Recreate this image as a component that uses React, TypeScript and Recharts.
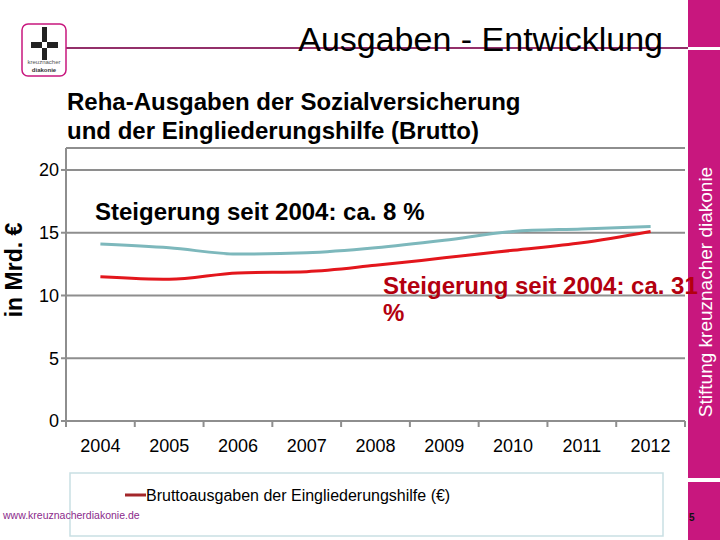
import React from 'react'
import { LineChart, Line, XAxis, YAxis, CartesianGrid } from 'recharts'

const YEARS = ['2004', '2005', '2006', '2007', '2008', '2009', '2010', '2011', '2012']
const SOZIALVERSICHERUNG = [14.1, 13.8, 13.3, 13.4, 13.8, 14.4, 15.1, 15.3, 15.5]
const EINGLIEDERUNGSHILFE = [11.5, 11.3, 11.8, 11.9, 12.4, 13.0, 13.6, 14.2, 15.1]
const Y_TICKS = [0, 5, 10, 15, 20]

const W = 720
const H = 540
const MARGIN = { top: 148, right: 35, bottom: 79, left: 6 }
const Y_AXIS_W = 60
const X_AXIS_H = 40
const PLOT_LEFT = MARGIN.left + Y_AXIS_W
const PLOT_RIGHT = W - MARGIN.right
const PLOT_BOTTOM = H - MARGIN.bottom - X_AXIS_H
const BAND = (PLOT_RIGHT - PLOT_LEFT) / YEARS.length

const GRAY = '#8e8e8e'
const TEAL = '#7db8bc'
const RED = '#e3161c'
const PINK = '#c8177e'
const FONT = '"Liberation Sans", Arial, sans-serif'

const data = YEARS.map((year, i) => ({
  year,
  sozial: SOZIALVERSICHERUNG[i],
  eingl: EINGLIEDERUNGSHILFE[i],
}))

function YearTick(props: any) {
  const { x, payload, index } = props
  const last = index === YEARS.length - 1
  return (
    <g>
      <line x1={x - BAND / 2} x2={x - BAND / 2} y1={PLOT_BOTTOM} y2={PLOT_BOTTOM + 6} stroke={GRAY} strokeWidth={2} />
      {last && (
        <line x1={x + BAND / 2} x2={x + BAND / 2} y1={PLOT_BOTTOM} y2={PLOT_BOTTOM + 6} stroke={GRAY} strokeWidth={2} />
      )}
      <text x={x} y={PLOT_BOTTOM + 31} textAnchor="middle" fontSize={18} fill="#000">
        {payload.value}
      </text>
    </g>
  )
}

function Logo() {
  return (
    <g>
      <rect x={22} y={24} width={44} height={52} rx={6} fill="#fff" stroke={PINK} strokeWidth={1.5} />
      <rect x={42} y={27} width={5} height={33} fill="#222" />
      <rect x={31} y={42} width={27} height={6} fill="#222" />
      <rect x={42} y={42} width={5} height={6} fill="#fff" />
      <text x={44} y={64} textAnchor="middle" fontSize={6} fill="#555">kreuznacher</text>
      <text x={44} y={72} textAnchor="middle" fontSize={6} fontWeight="bold" fill="#333">diakonie</text>
    </g>
  )
}

export default function App() {
  return (
    <div style={{ position: 'absolute', left: 0, top: 0, width: W, height: H, background: '#fff', fontFamily: FONT }}>
      <LineChart width={W} height={H} data={data} margin={MARGIN}>
        <CartesianGrid vertical={false} stroke={GRAY} strokeWidth={2} />
        <XAxis
          dataKey="year"
          scale="band"
          height={X_AXIS_H}
          interval={0}
          axisLine={{ stroke: GRAY, strokeWidth: 2 }}
          tickLine={false}
          tick={<YearTick />}
        />
        <YAxis
          domain={[0, 21.75]}
          ticks={Y_TICKS}
          width={Y_AXIS_W}
          axisLine={{ stroke: GRAY, strokeWidth: 2 }}
          tickLine={{ stroke: GRAY, strokeWidth: 2 }}
          tickSize={5}
          tick={{ fill: '#000', fontSize: 18 }}
        />
        <Line dataKey="sozial" type="monotone" stroke={TEAL} strokeWidth={3} dot={false} isAnimationActive={false} />
        <Line dataKey="eingl" type="monotone" stroke={RED} strokeWidth={3} dot={false} isAnimationActive={false} />
      </LineChart>

      <svg width={W} height={H} style={{ position: 'absolute', left: 0, top: 0, pointerEvents: 'none' }}>
        <rect x={688} y={0} width={32} height={47} fill={PINK} />
        <rect x={688} y={50} width={32} height={428} fill={PINK} />
        <rect x={688} y={482} width={32} height={58} fill={PINK} />
        <text
          transform="translate(705,292) rotate(-90)"
          textAnchor="middle"
          dominantBaseline="central"
          fontSize={19}
          fill="#fff"
        >
          Stiftung kreuznacher diakonie
        </text>

        <line x1={66} x2={688} y1={48} y2={48} stroke="#93306a" strokeWidth={2} />
        <Logo />
        <text x={663} y={51} textAnchor="end" fontSize={34} fill="#000">Ausgaben - Entwicklung</text>

        <text x={67} y={110} fontSize={24} fontWeight="bold" fill="#000">Reha-Ausgaben der Sozialversicherung</text>
        <text x={67} y={139} fontSize={24} fontWeight="bold" fill="#000">und der Eingliederungshilfe (Brutto)</text>

        <text
          transform="translate(14,270) rotate(-90)"
          textAnchor="middle"
          dominantBaseline="central"
          fontSize={23}
          fontWeight="bold"
          fill="#000"
        >
          in Mrd. €
        </text>

        <text x={95} y={220} fontSize={24} fontWeight="bold" fill="#000">Steigerung seit 2004: ca. 8 %</text>
        <text x={383} y={294} fontSize={24} fontWeight="bold" fill="#b3000f">Steigerung seit 2004: ca. 31</text>
        <text x={383} y={321} fontSize={24} fontWeight="bold" fill="#b3000f">%</text>

        <rect x={70} y={473} width={593} height={63} fill="none" stroke="#c9dfe3" strokeWidth={1.5} />
        <line x1={125} x2={146} y1={495} y2={495} stroke="#a3262a" strokeWidth={3} />
        <text x={146} y={501} fontSize={16} fill="#000">Bruttoausgaben der Eingliederungshilfe (€)</text>

        <text x={3} y={519} fontSize={10.5} fill="#8b2a8b">www.kreuznacherdiakonie.de</text>
        <text x={689} y={521} fontSize={10} fontWeight="bold" fill="#111">5</text>
      </svg>
    </div>
  )
}
